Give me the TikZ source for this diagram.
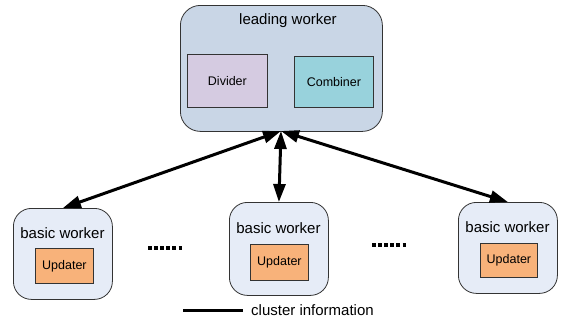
\documentclass[tikz,border=0pt]{standalone}
\usepackage{fontspec}
\setmainfont{Liberation Sans}
\usetikzlibrary{arrows.meta}
\definecolor{leadfill}{HTML}{C9D6E6}
\definecolor{basicfill}{HTML}{E6ECF7}
\definecolor{dividerfill}{HTML}{D5CBE1}
\definecolor{combinerfill}{HTML}{98D2DC}
\definecolor{updaterfill}{HTML}{F8B27A}
\definecolor{edge}{HTML}{333333}
\tikzset{
  worker/.style={draw=edge, line width=0.8pt, rounded corners=18pt, anchor=north west, inner sep=0pt},
  part/.style={draw=edge, line width=0.8pt, anchor=north west, inner sep=0pt},
  parttext/.style={font=\fontsize{12.5}{14}\selectfont},
  title/.style={font=\fontsize{15}{17}\selectfont, inner sep=0pt},
  link/.style={line width=3pt, {Triangle[length=18pt,width=12pt]}-{Triangle[length=18pt,width=12pt]}},
  ellipsis/.style={line width=3.5pt, dash pattern=on 3.5pt off 2.6pt},
}
\begin{document}
\begin{tikzpicture}[x=1pt,y=-1pt]
  \useasboundingbox (0,0) rectangle (564,322);

  % leading worker with its two parts
  \node[worker, fill=leadfill, rounded corners=20pt, minimum width=202pt, minimum height=126pt] (lead) at (180,5) {};
  \node[title] (leadtitle) at (288,21) {leading worker};
  \node[part, fill=dividerfill, minimum width=80pt, minimum height=53pt] (divider) at (187,54) {};
  \node[parttext] (dividertext) at (divider.center) {Divider};
  \node[part, fill=combinerfill, minimum width=79pt, minimum height=51pt] (combiner) at (294,56) {};
  \node[parttext] (combinertext) at (combiner.center) {Combiner};

  % basic workers
  \node[worker, fill=basicfill, minimum width=99pt, minimum height=91pt] (w1) at (13,208) {};
  \node[title] (w1title) at (62.5,233) {basic worker};
  \node[part, fill=updaterfill, minimum width=58pt, minimum height=35pt] (u1) at (35,248) {};
  \node[parttext] (u1text) at (u1.center) {Updater};

  \node[worker, fill=basicfill, minimum width=99pt, minimum height=93pt] (w2) at (229,202) {};
  \node[title] (w2title) at (278.5,228) {basic worker};
  \node[part, fill=updaterfill, minimum width=58pt, minimum height=36pt] (u2) at (250,244) {};
  \node[parttext] (u2text) at (u2.center) {Updater};

  \node[worker, fill=basicfill, minimum width=99pt, minimum height=91pt] (w3) at (458,202) {};
  \node[title] (w3title) at (507.5,227) {basic worker};
  \node[part, fill=updaterfill, minimum width=57pt, minimum height=34pt] (u3) at (480,243) {};
  \node[parttext] (u3text) at (u3.center) {Updater};

  % cluster information links
  \coordinate (hub) at (281,131);
  \draw[link] (hub) -- (w1.north);
  \draw[link] (hub) -- (w2.north);
  \draw[link] (hub) -- (w3.north);

  % ellipses between workers
  \coordinate (d1a) at (148,248);
  \coordinate (d1b) at (183,248);
  \coordinate (d2a) at (372,245);
  \coordinate (d2b) at (408,245);
  \draw[ellipsis] (d1a) -- (d1b);
  \draw[ellipsis] (d2a) -- (d2b);

  % legend
  \coordinate (lega) at (183,310);
  \coordinate (legb) at (243,310);
  \draw[line width=3pt] (lega) -- (legb);
  \node[title, anchor=west] (legtext) at (251,310) {cluster information};
\end{tikzpicture}
\end{document}
